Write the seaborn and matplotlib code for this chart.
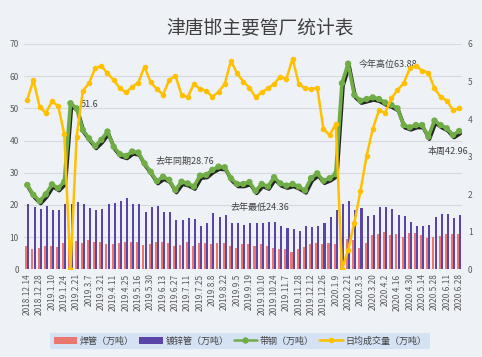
import numpy as np
import pandas as pd
import matplotlib
matplotlib.use("Agg")
import matplotlib.pyplot as plt
import matplotlib.patheffects as pe
import seaborn as sns

# ---------------- data ----------------
tick_labels = ["2018.12.14", "2018.12.28", "2019.1.10", "2019.1.24", "2019.2.21", "2019.3.7",
               "2019.3.21", "2019.4.11", "2019.4.25", "2019.5.16", "2019.5.30", "2019.6.13",
               "2019.6.27", "2019.7.11", "2019.7.25", "2019.8.8", "2019.8.22", "2019.9.5",
               "2019.9.19", "2019.10.10", "2019.10.24", "2019.11.7", "2019.11.28", "2019.12.12",
               "2019.12.26", "2020.1.9", "2020.2.21", "2020.3.5", "2020.3.20", "2020.4.2",
               "2020.4.16", "2020.4.30", "2020.5.14", "2020.5.28", "2020.6.11", "2020.6.28"]

hanguan = [7.1, 6.2, 6.6, 7.3, 7.2, 7.0, 8.2, 8.5, 8.9, 8.2, 9.2, 8.6, 8.4, 8.0, 8.0, 8.1, 8.5, 8.4,
           8.5, 7.6, 8.0, 8.5, 8.4, 8.1, 7.3, 7.6, 8.4, 7.1, 8.1, 8.1, 7.9, 8.3, 8.2, 7.3, 6.6, 8.0,
           7.8, 7.2, 7.8, 7.2, 6.5, 6.3, 6.2, 5.5, 6.2, 7.0, 7.9, 8.1, 7.9, 8.3, 7.9, 8.0, 9.5, 9.0,
           6.6, 8.2, 10.8, 11.0, 11.6, 10.8, 11.1, 10.1, 11.4, 11.2, 10.6, 9.6, 10.0, 10.3, 11.1, 11.0, 11.0]

duxinguan = [20.2, 19.3, 18.8, 19.8, 18.3, 18.4, 20.2, 20.2, 21.0, 20.2, 18.9, 18.3, 18.7, 20.4, 20.7,
             21.1, 22.1, 20.4, 20.2, 17.8, 19.4, 19.8, 17.8, 17.8, 15.3, 15.3, 15.8, 15.5, 13.3, 14.3,
             17.6, 16.1, 16.9, 14.3, 14.3, 13.8, 14.3, 14.3, 14.3, 14.6, 14.8, 13.3, 12.7, 12.4, 12.0,
             13.5, 13.2, 13.6, 14.3, 16.1, 18.4, 20.2, 21.1, 18.4, 18.9, 16.6, 16.8, 19.3, 19.4, 18.6,
             17.0, 16.7, 14.6, 13.3, 13.6, 13.8, 16.2, 17.3, 17.1, 15.8, 16.8]

daigang = [26.2, 23.1, 21.2, 23.3, 26.4, 25.2, 27.2, 51.6, 50.0, 43.3, 40.7, 38.3, 40.2, 42.8, 38.1,
           35.8, 35.2, 36.6, 36.3, 32.9, 30.3, 27.4, 28.76, 27.8, 24.6, 27.2, 26.7, 25.7, 29.1, 29.3,
           30.9, 31.9, 31.7, 28.3, 26.5, 26.5, 27.1, 24.36, 26.5, 25.7, 28.6, 26.7, 26.0, 26.5, 25.7,
           24.5, 28.3, 29.8, 27.5, 28.3, 29.6, 57.8, 63.88, 54.2, 52.4, 52.9, 53.4, 52.9, 51.8, 51.1,
           50.0, 44.8, 44.1, 44.8, 44.8, 41.2, 46.2, 44.8, 43.8, 41.7, 42.96]

chengjiao = [4.51, 5.04, 4.33, 4.16, 4.47, 4.35, 3.60, 0.0, 3.53, 4.75, 4.95, 5.35, 5.42, 5.22, 5.04,
             4.82, 4.71, 4.86, 4.97, 5.40, 4.98, 4.80, 4.65, 5.04, 5.16, 4.65, 4.58, 4.94, 4.80, 4.76,
             4.59, 4.73, 4.93, 5.55, 5.22, 5.00, 4.84, 4.58, 4.71, 4.82, 4.93, 5.13, 5.07, 5.61, 4.94,
             4.82, 4.79, 4.84, 3.74, 3.57, 3.87, 0.0, 0.51, 1.23, 2.08, 3.02, 3.74, 4.23, 4.17, 4.55,
             4.77, 4.95, 5.35, 5.42, 5.29, 5.24, 4.82, 4.59, 4.49, 4.24, 4.29]

series_names = ["焊管（万吨）", "镀锌管（万吨）", "带钢（万吨）", "日均成交量（万吨）"]
title = "津唐邯主要管厂统计表"

# ---------------- style ----------------
sns.set_theme(style="white")
plt.rcParams["font.family"] = ["Noto Sans CJK SC", "DejaVu Sans"]
plt.rcParams["axes.unicode_minus"] = False

BG = "#eef2f6"
C_HAN = "#ea7670"
C_DUX = "#5a44a8"
C_DAI = "#70ad47"
C_CJ = "#ffc000"
TXT = "#404040"

n = len(daigang)
idx = np.arange(n)

df_bar = pd.DataFrame({
    "idx": np.concatenate([idx, idx]),
    "val": hanguan + duxinguan,
    "kind": [series_names[0]] * n + [series_names[1]] * n,
})

fig = plt.figure(figsize=(4.82, 3.57), dpi=100, facecolor=BG)
ax = fig.add_axes([0.0502, 0.2457, 0.9088, 0.6311])
ax.set_facecolor(BG)

sns.barplot(data=df_bar, x="idx", y="val", hue="kind", hue_order=series_names[:2],
            palette=[C_HAN, C_DUX], width=0.7, gap=0.05, saturation=1,
            edgecolor="none", linewidth=0,
            dodge=True, ax=ax, zorder=2)

sns.lineplot(x=idx, y=daigang, ax=ax, color=C_DAI, lw=2.6, marker="o", markersize=4.6,
             markeredgewidth=0, label=series_names[2], zorder=4,
             path_effects=[pe.SimpleLineShadow(offset=(0.8, -1.8), shadow_color="black", alpha=0.85),
                           pe.Normal()])

ax.set_ylim(0, 70)
ax.set_yticks(np.arange(0, 71, 10))
ax.set_xlim(-0.5, n - 0.5)
ax.set_xticks(np.arange(0, n, 2))
ax.set_xticklabels(tick_labels, rotation=90, fontsize=6, color="#595959")
ax.tick_params(axis="y", labelsize=6, labelcolor="#595959", length=0, pad=4)
ax.tick_params(axis="x", length=0, pad=3)
ax.yaxis.grid(True, color="#d6d9dd", lw=0.8, zorder=0)
ax.xaxis.grid(False)
ax.set_axisbelow(True)
ax.set_xlabel("")
ax.set_ylabel("")
for s in ax.spines.values():
    s.set_visible(False)

ax2 = ax.twinx()
sns.lineplot(x=idx, y=chengjiao, ax=ax2, color=C_CJ, lw=1.8, marker="o", markersize=4,
             markeredgewidth=0, label=series_names[3], zorder=5)
ax2.set_ylim(0, 6)
ax2.set_yticks(np.arange(0, 7, 1))
ax2.tick_params(axis="y", labelsize=6, labelcolor="#595959", length=0, pad=4)
ax2.set_ylabel("")
ax2.grid(False)
for s in ax2.spines.values():
    s.set_visible(False)

# annotations
ax.text(8.7, 51.3, "51.6", fontsize=6.5, color=TXT, ha="left", va="center", zorder=6)
ax.text(25.5, 33.4, "去年同期28.76", fontsize=6.5, color=TXT, ha="center", va="center", zorder=6)
ax.text(37.7, 19.3, "去年最低24.36", fontsize=6.5, color=TXT, ha="center", va="center", zorder=6)
ax.text(58.5, 63.7, "今年高位63.88", fontsize=6.5, color=TXT, ha="center", va="center", zorder=6)
ax.text(68.2, 36.6, "本周42.96", fontsize=6.5, color=TXT, ha="center", va="center", zorder=6,
        clip_on=False)

fig.text(0.54, 0.919, title, fontsize=13.5, color=TXT, ha="center", va="center")

# legend
h1, l1 = ax.get_legend_handles_labels()
h2, l2 = ax2.get_legend_handles_labels()
if ax.get_legend() is not None:
    ax.get_legend().remove()
if ax2.get_legend() is not None:
    ax2.get_legend().remove()
handles = dict(zip(l1 + l2, h1 + h2))
leg = fig.legend([handles[k] for k in series_names], series_names, loc="center",
                 bbox_to_anchor=(0.498, 0.045), ncol=4, fontsize=6.5, frameon=True,
                 handlelength=2.6, handleheight=0.7, columnspacing=0.6, handletextpad=0.3,
                 borderpad=0.35, fancybox=False)
leg.get_frame().set_facecolor("#cfdff3")
leg.get_frame().set_edgecolor("none")
for ln in leg.get_lines():
    ln.set_path_effects([])
    ln.set_linewidth(1.8)
for t in leg.get_texts():
    t.set_color(TXT)

fig.savefig("out.png", dpi=100, facecolor=BG)
